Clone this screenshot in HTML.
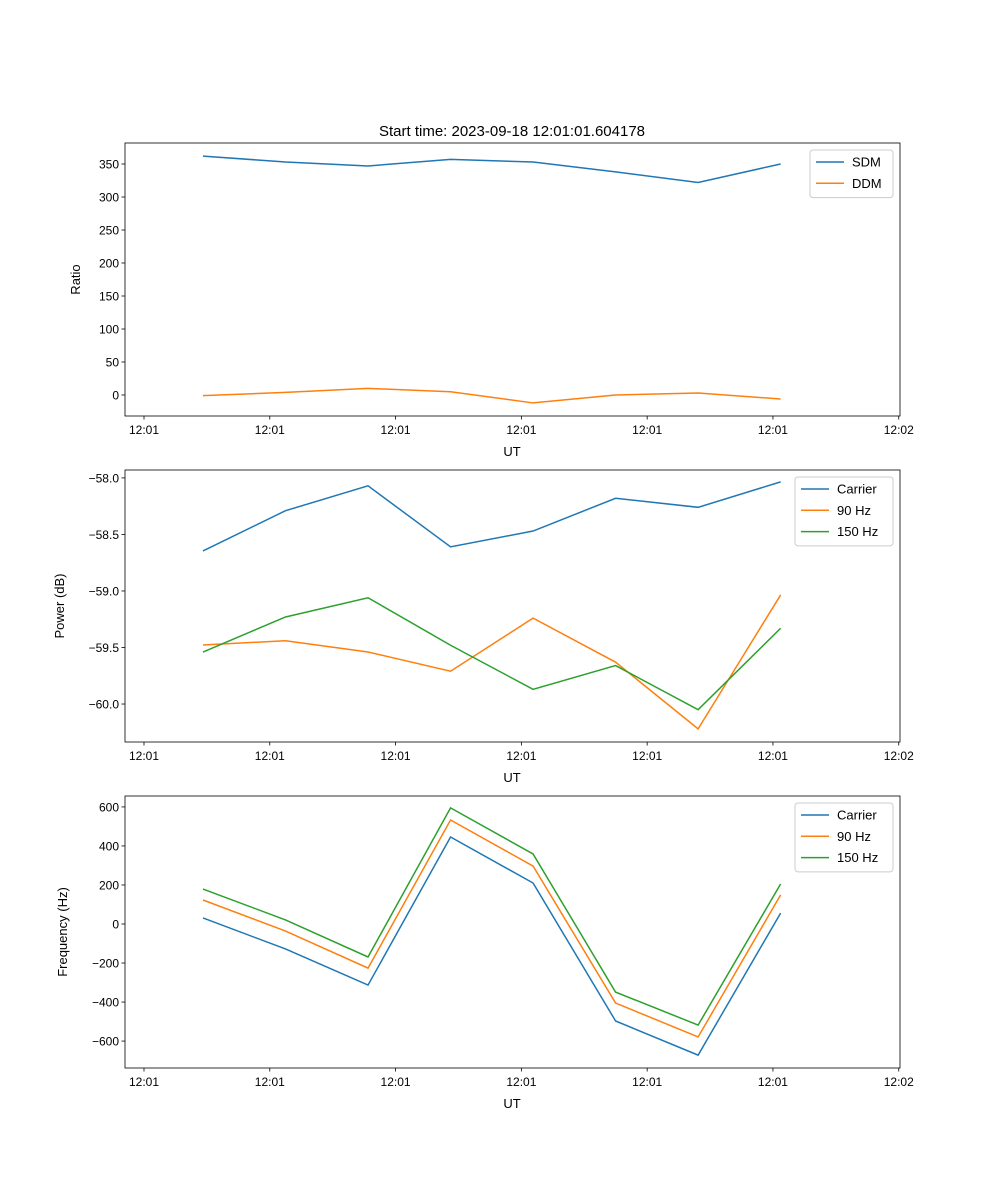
<!DOCTYPE html>
<html><head><meta charset="utf-8"><style>
html,body{margin:0;padding:0;background:#fff;}
svg{display:block;font-family:"Liberation Sans","DejaVu Sans",sans-serif;}
</style></head><body>
<svg id="fig" width="1000" height="1200" viewBox="0 0 1000 1200" xmlns="http://www.w3.org/2000/svg">
<rect width="1000" height="1200" fill="#fff"/>
<text x="512" y="136" text-anchor="middle" font-size="15">Start time: 2023-09-18 12:01:01.604178</text>
</svg>
<script>
const xTickLabels = ["12:01","12:01","12:01","12:01","12:01","12:01","12:02"];
const xTickValues = [0,1,2,3,4,5,6];
const times = [0.469,1.125,1.781,2.437,3.093,3.749,4.405,5.061];
const sdm = [362,353,347,357,353,338,322,350];
const ddm = [-1,4,10,5,-12,0,3,-6];
const powCarrier = [-58.646,-58.29,-58.07,-58.61,-58.47,-58.18,-58.26,-58.035];
const pow90 = [-59.478,-59.44,-59.54,-59.71,-59.24,-59.63,-60.22,-59.035];
const pow150 = [-59.54,-59.23,-59.06,-59.48,-59.87,-59.66,-60.05,-59.33];
const freqCarrier = [31,-128,-313,446,210,-497,-672,56];
const freq90 = [123,-36,-226,533,297,-405,-579,149];
const freq150 = [179,21,-169,595,359,-349,-518,205];
const ratioTicks = [0,50,100,150,200,250,300,350];
const powerTicks = [-60.0,-59.5,-59.0,-58.5,-58.0];
const freqTicks = [-600,-400,-200,0,200,400,600];

const NS="http://www.w3.org/2000/svg";
const svg=document.getElementById('fig');
function mk(tag,attrs,parent){const e=document.createElementNS(NS,tag);for(const k in attrs)e.setAttribute(k,attrs[k]);(parent||svg).appendChild(e);return e;}
const L=125,R=900,xMin=-0.151,xMax=6.01;
function xs(v){return L+(v-xMin)/(xMax-xMin)*(R-L);}

function panel(name,top,bot,yMin,yMax,yTicks,fmt,ylabel,series,legend){
  const g=mk('g',{});
  
  
  const ys=v=>bot-(v-yMin)/(yMax-yMin)*(bot-top);
  series.forEach(s=>{
    const p=mk('polyline',{points:times.map((t,i)=>xs(t)+','+ys(s.vals[i])).join(' '),fill:'none',stroke:s.color,'stroke-width':1.5},g);
    
    
  });
  const fr=mk('rect',{x:L,y:top,width:R-L,height:bot-top,fill:'none',stroke:'#000','stroke-width':0.8},g);
  
  
  xTickValues.forEach((v,i)=>{
    const x=xs(v);
    mk('line',{x1:x,y1:bot,x2:x,y2:bot+3.5,stroke:'#000','stroke-width':0.8},g);
    const t=mk('text',{x:x,y:bot+18,'text-anchor':'middle','font-size':12},g);
    t.textContent=xTickLabels[i];
    
    
  });
  const xl=mk('text',{x:512,y:bot+40,'text-anchor':'middle','font-size':13},g);
  xl.textContent='UT';
  
  
  yTicks.forEach(v=>{
    const y=ys(v);
    mk('line',{x1:L-3.5,y1:y,x2:L,y2:y,stroke:'#000','stroke-width':0.8},g);
    const t=mk('text',{x:L-6,y:y+4.5,'text-anchor':'end','font-size':12},g);
    t.textContent=fmt(v);
    
    
  });
  const yx=legend.ylx, yy=(top+bot)/2;
  const yl=mk('text',{x:yx,y:yy,'text-anchor':'middle','font-size':13,transform:'rotate(-90 '+yx+' '+yy+')'},g);
  yl.textContent=ylabel;
  
  
  const lg=mk('g',{},g);
  
  
  const lx=legend.x,ly=top+7,lw=893-lx,lh=series.length*21.3+5;
  mk('rect',{x:lx,y:ly,width:lw,height:lh,rx:3,fill:'#fff','fill-opacity':0.8,stroke:'#ccc','stroke-width':1},lg);
  series.forEach((s,i)=>{
    const cy=ly+12+i*21.3;
    mk('line',{x1:lx+6,y1:cy,x2:lx+34,y2:cy,stroke:s.color,'stroke-width':1.5},lg);
    const t=mk('text',{x:lx+42,y:cy+4.5,'font-size':13},lg);
    t.textContent=s.label;
    
    
  });
}
const B='#1f77b4',O='#ff7f0e',G='#2ca02c';
panel('ratio',143,416,-31.8,381.8,ratioTicks,v=>String(v),'Ratio',
  [{key:'sdm',label:'SDM',vals:sdm,color:B},{key:'ddm',label:'DDM',vals:ddm,color:O}],{x:810,ylx:80});
panel('power',470,742,-60.336,-57.93,powerTicks,v=>v.toFixed(1).replace('-','\u2212'),'Power (dB)',
  [{key:'carrier',label:'Carrier',vals:powCarrier,color:B},{key:'90hz',label:'90 Hz',vals:pow90,color:O},{key:'150hz',label:'150 Hz',vals:pow150,color:G}],{x:795,ylx:64});
panel('frequency',796,1068,-738,656,freqTicks,v=>String(v).replace('-','\u2212'),'Frequency (Hz)',
  [{key:'carrier',label:'Carrier',vals:freqCarrier,color:B},{key:'90hz',label:'90 Hz',vals:freq90,color:O},{key:'150hz',label:'150 Hz',vals:freq150,color:G}],{x:795,ylx:67});
</script>
</body></html>
